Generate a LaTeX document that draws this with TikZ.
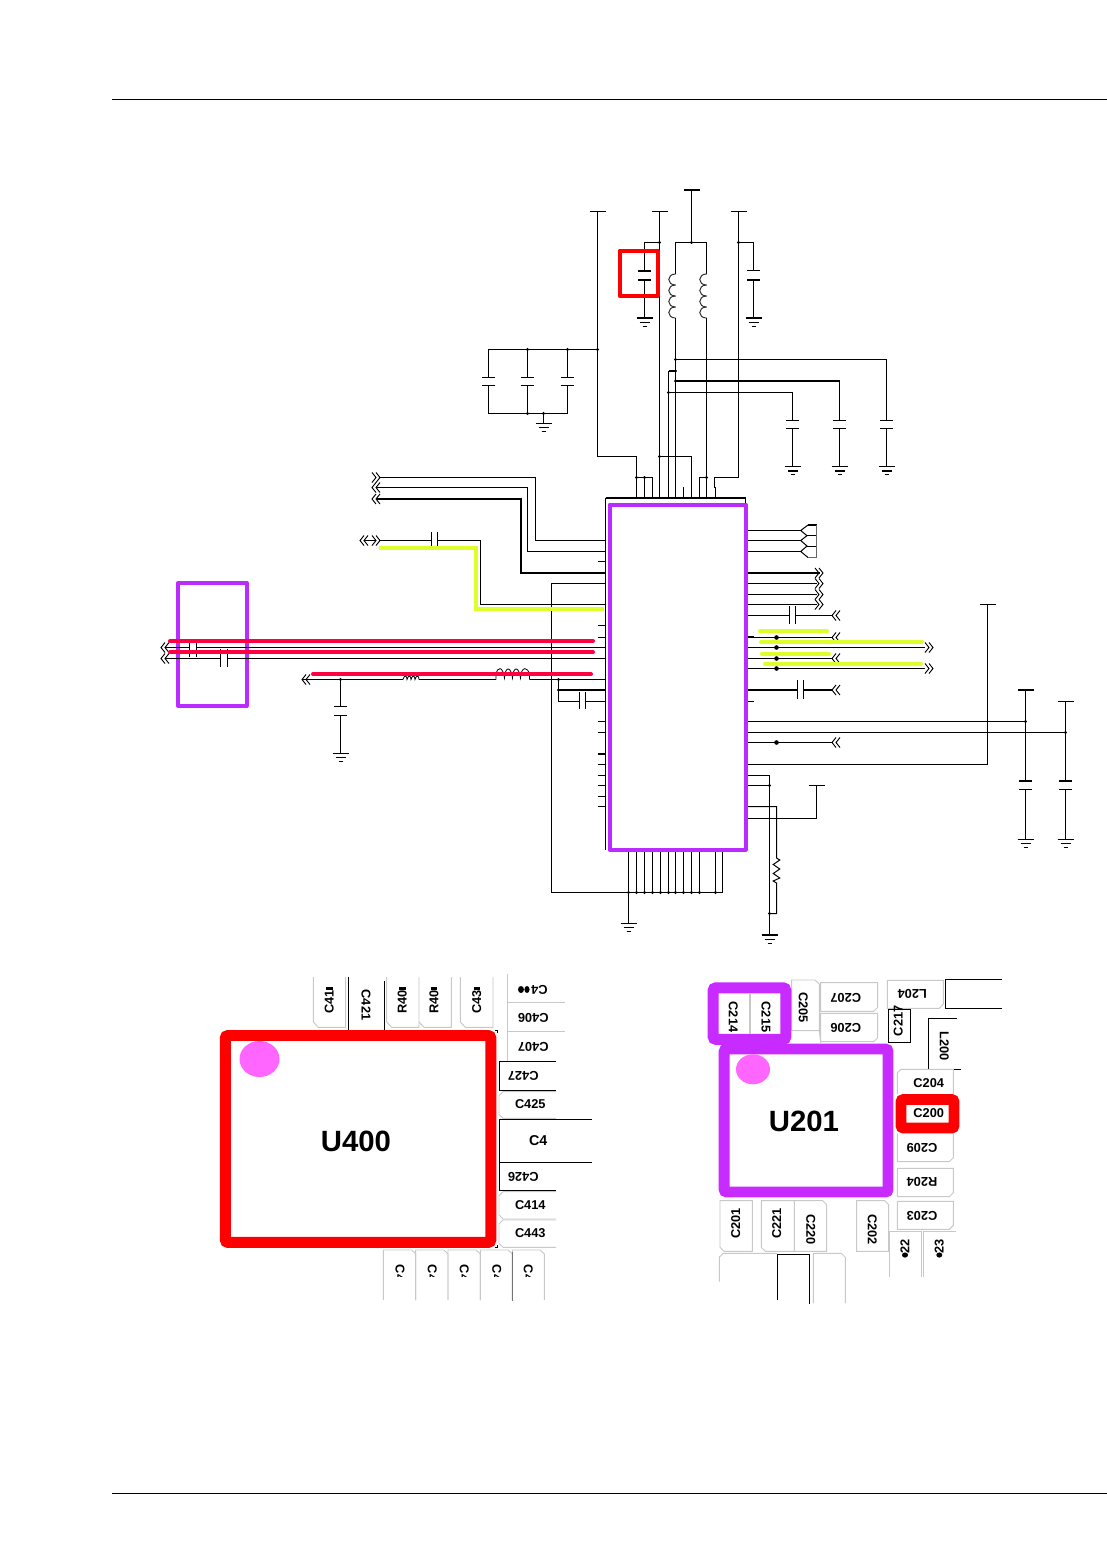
\documentclass[tikz,border=0pt]{standalone}
\usepackage{fontspec}
\setmainfont{Liberation Sans}
\definecolor{chipred}{HTML}{FF0000}
\definecolor{netred}{HTML}{FF0040}
\definecolor{netyel}{HTML}{DFFF2A}
\definecolor{netpur}{HTML}{B92BFF}
\definecolor{padpur}{HTML}{C72BFF}
\definecolor{pinkdot}{HTML}{FF66FF}
\definecolor{padgray}{HTML}{C8C8C8}
\tikzset{
  wire/.style={draw=black,line width=0.75pt},
  bold wire/.style={draw=black,line width=1.5pt},
  hiliteR/.style={draw=netred,line width=3pt,line cap=round},
  hiliteY/.style={draw=netyel,line width=3pt,line cap=round},
  hiliteP/.style={draw=netpur,line width=3pt,line join=round},
  padline/.style={draw=padgray,line width=0.7pt},
  padblack/.style={draw=black,line width=0.75pt},
  ref/.style={font=\bfseries\fontsize{9.6}{10}\selectfont,inner sep=0pt,text=black},
  refbig/.style={font=\bfseries\fontsize{10.7}{11}\selectfont,inner sep=0pt,text=black},
  chipname/.style={font=\bfseries\fontsize{22}{23}\selectfont,inner sep=0pt},
  frameR/.style={draw=chipred,line width=8.2pt,rounded corners=2pt},
  frameP/.style={draw=padpur,line width=8.2pt,rounded corners=2pt},
}
% junction dots
\newcommand\jdot[2]{\fill[black] (#1,#2) circle[radius=1.7];}
\newcommand\bigdot[2]{\fill[black] (#1,#2) circle[radius=2.3];}
% ground symbol
\newcommand\gndsym[3][wire]{%
  \draw[#1] ({#2-8},#3) -- ({#2+8},#3);
  \draw[wire] ({#2-5},{#3+4}) -- ({#2+5},{#3+4});
  \draw[wire] ({#2-2},{#3+8}) -- ({#2+2},{#3+8});}
% capacitor plates: horizontal plates at y1,y2
\newcommand\capplates[3]{%
  \draw[wire] ({#1-6.5},#2) -- ({#1+6.5},#2);
  \draw[wire] ({#1-6.5},#3) -- ({#1+6.5},#3);}
% power bar
\newcommand\pbar[3][wire]{\draw[#1] ({#2-8},#3) -- ({#2+8},#3);}
% chevrons: tip at x
\newcommand\chevL[2]{%
  \draw[wire,line width=0.7pt] ({#1+4},{#2-5}) -- (#1,#2) -- ({#1+4},{#2+5});
  \draw[wire,line width=0.7pt] ({#1+8},{#2-5}) -- ({#1+4},#2) -- ({#1+8},{#2+5});}
\newcommand\chevR[2]{%
  \draw[wire,line width=0.7pt] ({#1-4},{#2-5}) -- (#1,#2) -- ({#1-4},{#2+5});
  \draw[wire,line width=0.7pt] ({#1-8},{#2-5}) -- ({#1-4},#2) -- ({#1-8},{#2+5});}
% vertical coil, bulging to the left
\newcommand\vcoil[2]{%
  \foreach \k in {0,1,2,3}{
    \draw[wire,draw=black!80] (#1,{#2+11*\k}) .. controls ({#1-9},{#2+11*\k}) and ({#1-9},{#2+11*\k+11}) .. (#1,{#2+11*\k+11});}}
% vertical cap on a horizontal wire: plates at x1,x2
\newcommand\capH[4]{%
  \draw[wire] (#1,#3) -- (#1,#4);
  \draw[wire] (#2,#3) -- (#2,#4);}
\begin{document}
\begin{tikzpicture}[x=0.75pt,y=-0.75pt]
\useasboundingbox (0,0) rectangle (1107,1554);
\fill[white] (0,0) rectangle (1107,1554);
% page rules
\draw[wire] (112,99.5) -- (1107,99.5);
\draw[wire] (112,1493.5) -- (1107,1493.5);

% ---------- chip body
\draw[wire] (605.5,849.5) -- (605.5,498);
\draw[bold wire] (605.5,498) -- (745.5,498);
\draw[wire] (745.5,498) -- (745.5,504);

% ---------- top supply network
\pbar{597.5}{211.5}
\draw[wire] (597.5,211.5) -- (597.5,456.5) -- (636.5,456.5) -- (636.5,498);
\jdot{597.5}{349.5}
\draw[wire] (597.5,349.5) -- (488.5,349.5) -- (488.5,377.5);
\draw[wire] (527.5,349.5) -- (527.5,377.5);
\draw[wire] (567.5,349.5) -- (567.5,377.5);
\capplates{488.5}{377.5}{385.5}\capplates{527.5}{377.5}{385.5}\capplates{567.5}{377.5}{385.5}
\draw[wire] (488.5,385.5) -- (488.5,413.5) -- (567.5,413.5) -- (567.5,385.5);
\draw[wire] (527.5,385.5) -- (527.5,413.5);
\jdot{527.5}{349.5}\jdot{567.5}{349.5}\jdot{527.5}{413.5}\jdot{543.5}{413.5}
\draw[wire] (543.5,413.5) -- (543.5,423.5);
\gndsym{543.5}{423.5}

\pbar{659.5}{211.5}
\draw[wire] (659.5,211.5) -- (659.5,498);
\draw[wire] (659.5,242.5) -- (644.5,242.5) -- (644.5,270.5);
\jdot{659.5}{242.5}
\draw[bold wire] (638,271) -- (651,271);
\draw[bold wire] (638,280) -- (651,280);
\draw[wire] (644.5,280) -- (644.5,317.5);
\gndsym[bold wire]{644.5}{318}

\pbar[bold wire]{691.5}{190}
\draw[wire] (691.5,190) -- (691.5,242.5);
\draw[wire] (675.5,274) -- (675.5,242.5) -- (706.5,242.5) -- (706.5,274);
\jdot{691.5}{242.5}
\vcoil{675.5}{274}\vcoil{706.5}{274}
\draw[wire] (675.5,318) -- (675.5,498);
\draw[wire] (706.5,318) -- (706.5,498);

\pbar{738.5}{211.5}
\draw[wire] (738.5,211.5) -- (738.5,477.5) -- (714.5,477.5) -- (714.5,487.5) -- (715.5,487.5) -- (715.5,498);
\draw[wire] (738.5,242.5) -- (753.5,242.5) -- (753.5,270.5);
\jdot{738.5}{242.5}
\draw[wire] (747,270.5) -- (760,270.5);
\draw[bold wire] (747,280) -- (760,280);
\draw[wire] (753.5,280) -- (753.5,317.5);
\gndsym[bold wire]{753.5}{318}

% three decoupling branches
\draw[wire] (675.5,359.5) -- (886.5,359.5) -- (886.5,420.5);
\jdot{675.5}{359.5}
\draw[bold wire] (675.5,371) -- (668.5,371);
\draw[wire] (668.5,371) -- (668.5,498);
\jdot{675.5}{371}
\draw[bold wire] (675.5,381) -- (839.5,381);
\draw[wire] (839.5,381) -- (839.5,420.5);
\jdot{675.5}{381}
\draw[wire] (668.5,392.5) -- (792.5,392.5) -- (792.5,420.5);
\jdot{668.5}{392.5}
\capplates{792.5}{420.5}{428.5}\capplates{839.5}{420.5}{428.5}\capplates{886.5}{420.5}{428.5}
\draw[wire] (792.5,428.5) -- (792.5,466.5);
\draw[wire] (839.5,428.5) -- (839.5,466.5);
\draw[wire] (886.5,428.5) -- (886.5,466.5);
\foreach \gx in {792.5,839.5,886.5}{
  \draw[wire] ({\gx-8},466.5) -- ({\gx+8},466.5);
  \draw[bold wire] ({\gx-5},471) -- ({\gx+5},471);
  \draw[wire] ({\gx-2},474.5) -- ({\gx+2},474.5);}

% top pins
\draw[wire] (659.5,456.5) -- (691.5,456.5) -- (691.5,498);
\jdot{659.5}{456.5}
\draw[wire] (636.5,477.5) -- (652.5,477.5) -- (652.5,498);
\draw[wire] (644.5,477.5) -- (644.5,498);
\jdot{636.5}{477.5}\jdot{644.5}{477.5}
\draw[wire] (683.5,487) -- (683.5,498);
\draw[wire] (699.5,498) -- (699.5,477.5) -- (706.5,477.5);
\jdot{706.5}{477.5}

% ---------- left inputs
\chevR{380}{477.5}\chevL{372}{487.5}\chevL{372}{499}
\draw[wire] (380,477.5) -- (535.5,477.5) -- (535.5,540.5) -- (605.5,540.5);
\draw[wire] (376,487.5) -- (527.5,487.5) -- (527.5,551.5) -- (605.5,551.5);
\draw[bold wire] (376,499) -- (520.5,499) -- (520.5,573) -- (605.5,573);
\draw[wire] (597.5,561.5) -- (605.5,561.5);
\chevL{360}{540.5}\chevR{380}{540.5}
\draw[wire] (364,540.5) -- (376,540.5);
\draw[wire] (380,540.5) -- (431.5,540.5);
\capH{431.5}{437.5}{532}{546}
\draw[wire] (437.5,540.5) -- (480.5,540.5) -- (480.5,604.5) -- (605.5,604.5);
\draw[wire] (605.5,583.5) -- (551.5,583.5) -- (551.5,892.5) -- (722.5,892.5);
\foreach \sy in {625.5,637.5,721.5,732.5,764.5,775.5,785.5,796.5,806.5}{
  \draw[wire] (597.5,\sy) -- (605.5,\sy);}
\draw[bold wire] (597.5,754) -- (605.5,754);

% purple input box below the wires
\draw[hiliteP] (178,583) rectangle (246.5,705.5);

% differential pair
\chevL{161}{647.5}\chevL{161}{658.5}
\draw[wire] (165,647.5) -- (189.5,647.5);
\capH{189.5}{196.5}{643}{657}
\draw[wire] (196.5,647.5) -- (605.5,647.5);
\draw[wire] (165,658.5) -- (220.5,658.5);
\capH{220.5}{227.5}{649}{667}
\draw[wire] (227.5,658.5) -- (605.5,658.5);

% filter line
\chevL{302}{679.5}
\draw[wire] (302,679.5) -- (403,679.5);
\draw[wire,line width=0.6pt] (403,679.5) .. controls (404,675) and (407,675) .. (407,679.5)
  .. controls (408,675) and (411,675) .. (411,679.5)
  .. controls (412,675) and (415,675) .. (415,679.5)
  .. controls (416,675) and (419,675) .. (419,679.5);
\draw[wire] (419,679.5) -- (496,679.5);
\draw[wire,line width=0.6pt] (496,679.5) -- (496,675)
  .. controls (497,666) and (503,666) .. (504.5,678)
  .. controls (505,666) and (511,666) .. (512.5,678)
  .. controls (513,666) and (519,666) .. (520.5,678)
  .. controls (521,666) and (528,666) .. (529.5,675) -- (529.5,679.5);
\draw[wire] (529.5,679.5) -- (605.5,679.5);
\jdot{340.5}{679.5}
\draw[wire] (340.5,679.5) -- (340.5,706.5);
\capplates{340.5}{706.5}{715.5}
\draw[wire] (340.5,715.5) -- (340.5,753.5);
\gndsym{340.5}{753.5}
\jdot{558.5}{679.5}
\draw[wire] (558.5,679.5) -- (558.5,701.5) -- (579.5,701.5);
\capH{579.5}{585.5}{692}{709}
\draw[wire] (585.5,701.5) -- (605.5,701.5);
\draw[bold wire] (558.5,690) -- (605.5,690);
\jdot{558.5}{690}

% ---------- bottom pins
\foreach \px in {628.5,636.5,644.5,652.5,660.5,668.5,675.5,683.5,691.5,699.5,715.5}{
  \draw[wire] (\px,849.5) -- (\px,892.5);
  \jdot{\px}{892.5}}
\draw[wire] (722.5,849.5) -- (722.5,892.5);
\draw[wire] (628.5,892.5) -- (628.5,923.5);
\gndsym{628.5}{923.5}

% ---------- right side
\foreach \ry in {530.5,540.5,551.5}{\draw[wire] (746,\ry) -- (800.7,\ry);}
\draw[wire] (808,525) -- (800.7,530.5) -- (807,535.7) -- (800.7,540.5) -- (807,546) -- (800.7,551.5) -- (808,557.5);
\draw[wire] (807,535.5) -- (816.5,535.5);
\draw[wire] (807,546.5) -- (816.5,546.5);
\draw[bold wire] (808,525) -- (817,525);
\draw[wire,draw=black!60] (808,557.5) -- (816.5,557.5) -- (816.5,525);
\draw[bold wire] (746,573) -- (820,573);
\draw[wire] (746,583.5) -- (817,583.5);
\draw[wire] (746,594.5) -- (817,594.5);
\draw[wire] (746,604.5) -- (817,604.5);
\chevR{823}{573}\chevR{823}{583.5}\chevR{823}{594.5}\chevR{823}{604.5}
\draw[wire] (746,615.5) -- (789.5,615.5);
\capH{789.5}{795.5}{606}{624}
\draw[wire] (795.5,615.5) -- (832,615.5);
\chevL{832}{615.5}

\draw[bold wire] (746,637) -- (754,637);
\draw[wire] (754,637.5) -- (832,637.5);\chevL{832}{637.5}
\draw[wire] (746,647.5) -- (925,647.5);\chevR{933}{647.5}
\draw[wire] (746,658.5) -- (832,658.5);\chevL{832}{658.5}
\draw[wire] (746,668.5) -- (925,668.5);\chevR{933}{668.5}
\bigdot{776.5}{637.5}\bigdot{776.5}{647.5}\bigdot{776.5}{658.5}\bigdot{776.5}{668.5}
\draw[bold wire] (746,690) -- (797.5,690);
\capH{797.5}{803.5}{680}{699}
\draw[bold wire] (803.5,690) -- (832,690);\chevL{832}{690}
\draw[wire] (746,701.5) -- (754,701.5);

\draw[wire] (746,721.5) -- (1025.5,721.5);
\draw[wire] (746,732.5) -- (1065.5,732.5);
\jdot{1065.5}{732.5}\jdot{1025.5}{721.5}
\draw[wire] (746,742.5) -- (832,742.5);\chevL{832}{742.5}
\bigdot{776.5}{742.5}
\draw[wire] (746,764.5) -- (987.5,764.5) -- (987.5,604.5);
\pbar{987.5}{604.5}

\draw[wire] (746,775.5) -- (769.5,775.5) -- (769.5,935);
\draw[wire] (746,785.5) -- (769.5,785.5);
\jdot{769.5}{785.5}
\gndsym[bold wire]{769.5}{935}
\draw[wire] (746,806.5) -- (776.5,806.5) -- (776.5,858)
  -- (779.8,860) -- (773.2,864.5) -- (779.8,869) -- (773.2,873.5) -- (779.8,878) -- (773.2,881) -- (776.5,883)
  -- (776.5,913.5) -- (769.5,913.5);
\jdot{769.5}{913.5}
\draw[wire] (746,818.5) -- (816.5,818.5) -- (816.5,785.5);
\pbar{816.5}{785.5}

\pbar[bold wire]{1025.5}{690}
\draw[wire] (1025.5,690) -- (1025.5,781);
\draw[bold wire] (1019,781) -- (1032,781);
\draw[wire] (1019,789.5) -- (1032,789.5);
\draw[wire] (1025.5,789.5) -- (1025.5,839.5);
\gndsym{1025.5}{839.5}
\pbar{1065.5}{701.5}
\draw[wire] (1065.5,701.5) -- (1065.5,781);
\draw[bold wire] (1059,781) -- (1072,781);
\draw[wire] (1059,789.5) -- (1072,789.5);
\draw[wire] (1065.5,789.5) -- (1065.5,839.5);
\gndsym{1065.5}{839.5}

% ---------- highlights
\draw[hiliteP,draw=netpur] (609.5,504.5) rectangle (745.5,849.5);
\draw[draw=chipred,line width=3pt,line join=round] (619.7,250.5) rectangle (657.7,296);
\draw[hiliteY,line cap=butt] (379.3,548.3) -- (476.3,548.3) -- (476.3,609) -- (604,609);
\draw[hiliteR] (170,641) -- (593,641);
\draw[hiliteR] (170,652) -- (593,652);
\draw[hiliteR] (313,674) -- (591,674);
\draw[hiliteY] (760,631.3) -- (827,631.3);
\draw[hiliteY] (761,642.3) -- (922,642.3);
\draw[hiliteY] (762,654.3) -- (829,654.3);
\draw[hiliteY] (765,664.3) -- (921,664.3);

% ---------- U400 footprint
\foreach \a/\b in {313.3/345.7,386.7/419,460.3/493}{
  \draw[padline] (\a,977) -- (\a,1022) -- ({\a+5},1027.3) -- (\b,1027.3) -- (\b,977);}
\draw[padline] (419,1022) -- (424,1027.3) -- (451.3,1027.3) -- (451.3,977);
\draw[padblack] (348.5,977) -- (348.5,1030.3);
\draw[padblack] (384.5,981) -- (384.5,1030.3);
\draw[padline] (507.7,974) -- (507.7,1060.7);
\draw[padline] (507.7,1002.3) -- (565,1002.3);
\draw[padline] (507.7,1031.7) -- (565,1031.7);
\draw[padblack] (556,1061.5) -- (499.5,1061.5) -- (499.5,1090.5) -- (556,1090.5);
\draw[padblack] (591.7,1119.5) -- (499.5,1119.5) -- (499.5,1190.5) -- (556,1190.5);
\draw[padblack] (499.5,1162.5) -- (591.7,1162.5);
\foreach \ta/\tb in {1091.7/1118.3,1191.7/1219,1220/1247.3}{
  \draw[padline] (556,\ta) -- (503,\ta) -- (499,{\ta+4}) -- (499,{\tb-4}) -- (503,\tb) -- (556,\tb);}
\foreach \a/\b in {383.3/415.7,415.7/448,448/480.3,480.3/512.3,512.3/544.3}{
  \draw[padline] (\a,1300) -- (\a,1250) -- ({\b-4},1250) -- (\b,1254) -- (\b,1300);}
\draw[draw=black!55,line width=0.75pt] (512.5,1252) -- (512.5,1301);
\draw[padblack] (494.5,1030.5) -- (497,1030.5) -- (497,1033);
\draw[padblack] (494.5,1247.5) -- (497,1247.5) -- (497,1245);
\draw[frameR] (225.3,1035.5) rectangle (490.8,1242.4);
\fill[pinkdot] (259.5,1059) ellipse[x radius=20,y radius=18];
\node[chipname] (u400) at (356,1141) {U400};
\node[ref,rotate=90,anchor=west] (c41) at (329.3,1014) {C41};
\node[ref,rotate=-90] (c421) at (366,1005) {C421};
\node[ref,rotate=90,anchor=west] (r40a) at (402.3,1014) {R40};
\node[ref,rotate=90,anchor=west] (r40b) at (434,1014) {R40};
\node[ref,rotate=90,anchor=west] (c43) at (476.7,1014) {C43};
\fill[black] (326,986.5) rectangle (333,989.5);
\fill[black] (399,986.5) rectangle (406,990);
\fill[black] (431,986.5) rectangle (437,989.5);
\fill[black] (473.5,986.5) rectangle (480,990);
\node[ref,rotate=180,anchor=west] (c4top) at (548,989.5) {C4};
\fill[black] (518.5,986) ellipse[x radius=0,y radius=0];
\fill[black] (521,989.5) ellipse[x radius=3,y radius=3.5];
\fill[black] (527,989.5) ellipse[x radius=2.6,y radius=3.5];
\node[ref,rotate=180] (c406) at (533.3,1018.3) {C406};
\node[ref,rotate=180] (c407) at (533.3,1046.7) {C407};
\node[ref,rotate=180] (c427) at (523.3,1076) {C427};
\node[ref] (c425) at (530.3,1104) {C425};
\node[refbig] (c4m) at (538.3,1141) {C4};
\node[ref,rotate=180] (c426) at (523.3,1176.7) {C426};
\node[ref] (c414) at (530.3,1204.7) {C414};
\node[ref] (c443) at (530.3,1233) {C443};
\begin{scope}
\clip (380,1255) rectangle (550,1276);
\foreach \bx/\bn in {400/a,432.3/b,464.3/c,496.7/d,528.3/e}{
  \node[ref,rotate=-90,anchor=west] (c4\bn) at (\bx,1264.5) {C4};}
\end{scope}

% ---------- U201 footprint
\draw[padline] (791.7,1030.7) -- (791.7,980) -- (815,980) -- (819.3,984) -- (819.3,1030.7) -- (791.7,1030.7);
\draw[padline] (819.3,1030.7) -- (820.7,1042.7);
\foreach \ta/\tb in {982.7/1011.3,1013.3/1041.7}{
  \draw[padline] (820.7,\ta) -- (877.7,\ta) -- (877.7,{\tb-4}) -- (873.7,\tb) -- (820.7,\tb) -- cycle;}
\draw[padline] (887.3,980.3) -- (943.3,980.3) -- (943.3,1004) -- (939.3,1008.3) -- (887.3,1008.3) -- cycle;
\draw[padblack] (1001.7,979.5) -- (945.5,979.5) -- (945.5,1008.5) -- (1001.7,1008.5);
\draw[padblack] (888.5,1009.5) rectangle (910.5,1042.5);
\draw[padblack] (956.7,1018.5) -- (928.5,1018.5) -- (928.5,1069.5) -- (960.7,1069.5);
\draw[padline] (897.3,1094) -- (897.3,1073) -- (901,1069.3) -- (953.3,1069.3) -- (953.3,1094);
\draw[padline] (897.3,1133.3) -- (897.3,1161.7) -- (949.3,1161.7) -- (953.3,1157.7) -- (953.3,1133.3);
\foreach \ta/\tb in {1168.3/1196.7,1201.3/1229.3}{
  \draw[padline] (897.3,\ta) -- (953.3,\ta) -- (953.3,{\tb-4}) -- (949.3,\tb) -- (897.3,\tb) -- cycle;}
\draw[padline] (720,1200.7) -- (752.3,1200.7) -- (752.3,1251.3) -- (724,1251.3) -- (720,1247.3) -- cycle;
\draw[padline] (761.3,1200.7) -- (794.3,1200.7) -- (794.3,1251.3) -- (765.3,1251.3) -- (761.3,1247.3) -- cycle;
\draw[padline] (794.3,1200.7) -- (822.7,1200.7) -- (826.7,1204.7) -- (826.7,1251.3) -- (794.3,1251.3);
\draw[padline] (856.7,1251.3) -- (856.7,1200.7) -- (884.7,1200.7) -- (888.7,1204.7) -- (888.7,1251.3) -- cycle;
\draw[padline] (889.3,1277.3) -- (889.3,1231.7) -- (921.3,1231.7) -- (921.3,1277.3);
\draw[padline] (923.3,1277.3) -- (923.3,1231.7) -- (956,1231.7);
\draw[padline] (719.3,1281.7) -- (719.3,1257) -- (723.3,1253.3) -- (777.3,1253.3);
\draw[padblack] (777.5,1300) -- (777.5,1254.5) -- (809.5,1254.5) -- (809.5,1304);
\draw[padline] (813.3,1303) -- (813.3,1253.3) -- (841.3,1253.3) -- (845.3,1257.3) -- (845.3,1303);
\draw[frameP] (713.2,987.8) rectangle (785.8,1039.3);
\draw[padline,line width=2pt] (750,993.5) -- (750,1034);
\draw[frameP] (724.2,1049) rectangle (888,1192);
\draw[frameR] (901,1099.5) rectangle (954,1128);
\fill[pinkdot] (753,1069.3) ellipse[x radius=17,y radius=15];
\node[chipname] (u201) at (804,1121.7) {U201};
\node[ref,rotate=-90] (c214) at (733.3,1017) {C214};
\node[ref,rotate=-90] (c215) at (766,1017) {C215};
\node[ref,rotate=-90] (c205) at (803.3,1007.7) {C205};
\node[ref,rotate=180] (c207) at (845.7,997.7) {C207};
\node[ref,rotate=180] (c206) at (845.7,1027.7) {C206};
\node[ref,rotate=180] (l204) at (912.3,994.3) {L204};
\node[ref,rotate=90] (c217) at (898.3,1020.7) {C217};
\node[ref,rotate=-90] (l200) at (944.3,1046) {L200};
\node[ref] (c204) at (928.7,1083.3) {C204};
\node[ref] (c200) at (928.7,1113.3) {C200};
\node[ref,rotate=180] (c209) at (922,1148.3) {C209};
\node[ref,rotate=180] (r204) at (922,1182.3) {R204};
\node[ref,rotate=180] (c203) at (922,1216) {C203};
\node[ref,rotate=90] (c201) at (735.7,1223.3) {C201};
\node[ref,rotate=90] (c221) at (776.7,1223.3) {C221};
\node[ref,rotate=-90] (c220) at (810.7,1229.3) {C220};
\node[ref,rotate=-90] (c202) at (872.3,1229.3) {C202};
\node[ref,rotate=90] (t22) at (905,1246) {22};
\node[ref,rotate=90] (t23) at (939.3,1246) {23};
\fill[black] (905,1255) ellipse[x radius=3,y radius=2.6];
\fill[black] (939.3,1255) ellipse[x radius=3,y radius=2.6];
\end{tikzpicture}
\end{document}
